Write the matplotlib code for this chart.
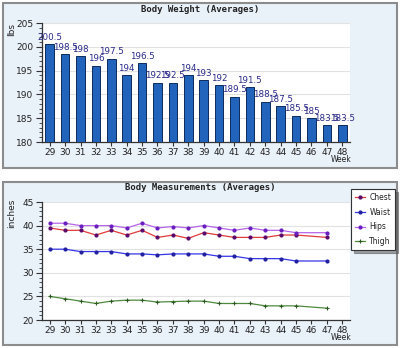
import matplotlib
matplotlib.use("Agg")
import matplotlib.pyplot as plt
from matplotlib.patches import Rectangle
from matplotlib.ticker import MultipleLocator
import numpy as np

# --- data ---
weeks = list(range(29, 49))
weight = [200.5, 198.5, 198, 196, 197.5, 194, 196.5, 192.5, 192.5, 194,
          193, 192, 189.5, 191.5, 188.5, 187.5, 185.5, 185, 183.5, 183.5]

m_weeks = [29, 30, 31, 32, 33, 34, 35, 36, 37, 38, 39, 40, 41, 42, 43, 44, 45, 47]
chest = [39.5, 39, 39, 38, 39, 38, 39, 37.5, 38, 37.3, 38.5, 38, 37.5, 37.5, 37.5, 38, 38, 37.5]
waist = [35, 35, 34.5, 34.5, 34.5, 34, 34, 33.8, 34, 34, 34, 33.5, 33.5, 33, 33, 33, 32.5, 32.5]
hips = [40.5, 40.5, 40, 40, 40, 39.5, 40.5, 39.5, 39.8, 39.5, 40, 39.5, 39, 39.5, 39, 39, 38.5, 38.5]
thigh = [25, 24.5, 24, 23.5, 24, 24.2, 24.2, 23.8, 23.9, 24, 24, 23.5, 23.5, 23.5, 23, 23, 23, 22.5]

W, H = 400, 348
PANEL = "#e9f1f9"
TXT = "#222222"
plt.rcParams['font.family'] = ['DejaVu Sans']


def fx(px):
    return px / W


def fy(py):
    return 1 - py / H


fig = plt.figure(figsize=(W / 100, H / 100), dpi=100)
fig.patch.set_facecolor("white")

# panel backgrounds (behind the axes)
for top, bot in [(3, 168), (182, 345)]:
    fig.patches.append(Rectangle((fx(3), fy(bot)), fx(394), (bot - top) / H,
                                 transform=fig.transFigure, facecolor=PANEL,
                                 edgecolor="#8c8c8c", linewidth=1.5, zorder=-5))


def style_axes(ax, ylo, yhi):
    ax.set_facecolor("white")
    ax.set_xlim(28.5, 48.5)
    ax.set_ylim(ylo, yhi)
    ax.set_xticks(weeks)
    ax.yaxis.set_major_locator(MultipleLocator(5))
    ax.yaxis.set_minor_locator(MultipleLocator(1))
    ax.tick_params(axis="both", which="major", labelsize=6.5, length=4, width=0.8,
                   colors="#333333", labelcolor=TXT, pad=2)
    ax.tick_params(axis="y", which="minor", length=2, width=0.6, colors="#333333")
    ax.tick_params(axis="x", which="major", length=3, pad=1)
    for s in ("top", "right"):
        ax.spines[s].set_visible(False)
    for s in ("left", "bottom"):
        ax.spines[s].set_color("#333333")
        ax.spines[s].set_linewidth(0.9)
    ax.grid(axis="y", which="major", color="#e2e2e2", linewidth=0.8)
    ax.set_axisbelow(True)


# ---- top: body weight ----
ax1 = fig.add_axes([fx(42), fy(142), fx(308), (142 - 23) / H])
style_axes(ax1, 180, 205)
ax1.bar(weeks, [w - 180 for w in weight], bottom=180, width=0.55,
        color="#2264bb", edgecolor="#0c2a5c", linewidth=0.7, zorder=3)
for wk, w in zip(weeks, weight):
    ax1.text(wk, w + 0.5, f"{w:g}", ha="center", va="bottom", fontsize=6.3,
             color="#2a2a8a", zorder=4, clip_on=False)
fig.text(fx(200), fy(10), "Body Weight (Averages)", ha="center", va="center",
         fontsize=6.5, fontweight="bold", family="DejaVu Sans Mono", color=TXT)
fig.text(fx(12), fy(30), "lbs", ha="center", va="center", rotation=90,
         fontsize=6.5, color=TXT)
fig.text(fx(341), fy(160), "Week", ha="center", va="center", fontsize=5.5, color=TXT)

# ---- bottom: body measurements ----
ax2 = fig.add_axes([fx(42), fy(320), fx(308), (320 - 202) / H])
style_axes(ax2, 20, 45)
series = [
    ("Chest", chest, "#e03a3a", "#5a0a6a", "o"),
    ("Waist", waist, "#3535e8", "#2020a0", "o"),
    ("Hips", hips, "#b765ea", "#6a1ec0", "o"),
    ("Thigh", thigh, "#4e8a3e", "#2d5a22", "+"),
]
for name, vals, lc, mc, mk in series:
    ms = 2.2 if mk == "o" else 3.5
    ax2.plot(m_weeks, vals, color=lc, linewidth=0.9, marker=mk, markersize=ms,
             markerfacecolor=mc, markeredgecolor=mc, markeredgewidth=0.8,
             label=name, zorder=3)
fig.text(fx(200), fy(188), "Body Measurements (Averages)", ha="center", va="center",
         fontsize=6.5, fontweight="bold", family="DejaVu Sans Mono", color=TXT)
fig.text(fx(12), fy(213), "inches", ha="center", va="center", rotation=90,
         fontsize=6.5, color=TXT)
fig.text(fx(341), fy(338), "Week", ha="center", va="center", fontsize=5.5, color=TXT)

leg = fig.legend(loc="upper left", bbox_to_anchor=(fx(351), fy(189)),
                 fontsize=5.5, frameon=True, fancybox=False, shadow=True,
                 handlelength=1.3, borderpad=0.5, labelspacing=0.75,
                 handletextpad=0.6, borderaxespad=0)
leg.get_frame().set_edgecolor("#333333")
leg.get_frame().set_linewidth(0.8)
for t in leg.get_texts():
    t.set_color(TXT)

fig.savefig("out.png", dpi=100)
